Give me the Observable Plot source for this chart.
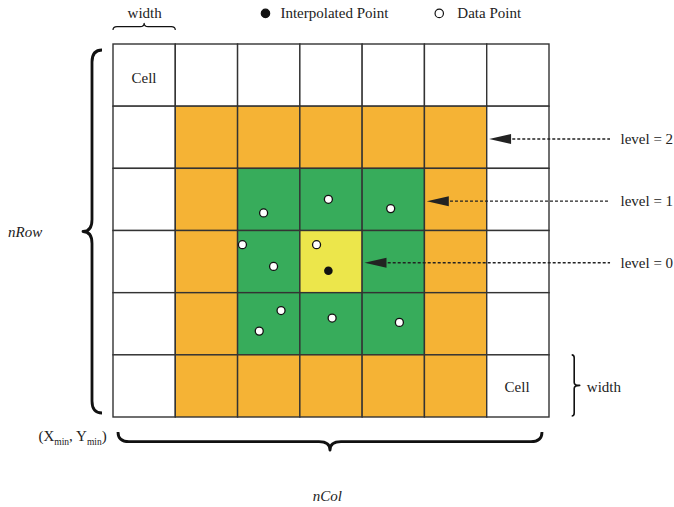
<!DOCTYPE html>
<html><head><meta charset="utf-8">
<script src="https://cdn.jsdelivr.net/npm/d3@7"></script>
<script src="https://cdn.jsdelivr.net/npm/@observablehq/plot@0.6"></script>
<style>body{margin:0;background:#fff}#chart svg{display:block}</style>
</head><body><div id="chart"></div>
<script>
const nCol = 7, nRow = 6;
// level of each cell, listed from the top row down; -1 = outside the search window
const levelGrid = [
  [-1,-1,-1,-1,-1,-1,-1],
  [-1, 2, 2, 2, 2, 2,-1],
  [-1, 2, 1, 1, 1, 2,-1],
  [-1, 2, 1, 0, 1, 2,-1],
  [-1, 2, 1, 1, 1, 2,-1],
  [-1, 2, 2, 2, 2, 2,-1]
];
const levelColors = ["#ECE64B", "#37AC5B", "#F5B335"];
const dataX = [2.41, 3.45, 4.45, 2.07, 3.26, 2.57, 2.69, 2.34, 3.51, 4.59];
const dataY = [3.29, 3.51, 3.36, 2.78, 2.78, 2.43, 1.72, 1.39, 1.60, 1.53];
const interpX = [3.45], interpY = [2.36];
const levelLabels = ["level = 0", "level = 1", "level = 2"];
const arrowTipX = [4.03, 5.03, 6.03];
const arrowY = [2.49, 3.48, 4.48];
const arrowTailX = 7.98;
const labelX = 8.14;
const centerLabels = [
  {text: "width", x: 0.5, y: 6.51},
  {text: "Cell", x: 0.49, y: 5.46},
  {text: "Cell", x: 6.48, y: 0.49}
];
const startLabels = [
  {text: "Interpolated Point", x: 2.68, y: 6.5},
  {text: "Data Point", x: 5.52, y: 6.5},
  {text: "width", x: 7.60, y: 0.48},
  {text: "(Xmin, Ymin)", x: -1.204, y: -0.306}
];
const italicLabels = [
  {text: "nRow", x: -1.42, y: 2.976},
  {text: "nCol", x: 3.435, y: -1.258}
];
const legendItems = [
  {x: 2.44, y: 6.5, fill: "#111"},
  {x: 5.23, y: 6.5, fill: "white"}
];

const cells = [];
levelGrid.forEach((row, i) => row.forEach((lv, c) => {
  cells.push({col: c, row: nRow - 1 - i, level: lv});
}));
const points = dataX.map((x, i) => ({x, y: dataY[i]}));
const interp = interpX.map((x, i) => ({x, y: interpY[i]}));
const arrows = levelLabels.map((t, i) => ({text: t, tip: arrowTipX[i], y: arrowY[i]}));

const arrowHead = {draw(ctx) { ctx.moveTo(0, 0); ctx.lineTo(22, -5); ctx.lineTo(22, 5); ctx.closePath(); }};

function bracePath(p0, p1, n, depth, tip, curl) {
  const L = Math.hypot(p1[0] - p0[0], p1[1] - p0[1]);
  const u = [(p1[0] - p0[0]) / L, (p1[1] - p0[1]) / L];
  const P = (p, a, b) => [p[0] + u[0] * a + n[0] * b, p[1] + u[1] * a + n[1] * b];
  const m = [(p0[0] + p1[0]) / 2, (p0[1] + p1[1]) / 2];
  const path = d3.path();
  path.moveTo(...p0);
  path.quadraticCurveTo(...P(p0, 0, depth), ...P(p0, curl, depth));
  path.lineTo(...P(m, -curl, depth));
  path.quadraticCurveTo(...P(m, 0, depth), ...P(m, 0, depth + tip));
  path.quadraticCurveTo(...P(m, 0, depth), ...P(m, curl, depth));
  path.lineTo(...P(p1, -curl, depth));
  path.quadraticCurveTo(...P(p1, 0, depth), ...p1);
  return path.toString();
}

function braces(index, scales) {
  const {x, y} = scales;
  const specs = [
    {p0: [x(0) - 11, y(nRow) + 6], p1: [x(0) - 11, y(0) - 4], n: [-1, 0], depth: 10, tip: 9, curl: 12, w: 2.8},
    {p0: [x(0) + 5, y(0) + 15], p1: [x(nCol) - 7, y(0) + 15], n: [0, 1], depth: 9.7, tip: 8.5, curl: 11, w: 2.8},
    {p0: [x(0), y(nRow) - 14], p1: [x(1), y(nRow) - 14], n: [0, -1], depth: 3.3, tip: 3.4, curl: 4, w: 1.2},
    {p0: [x(nCol) + 22.7, y(1)], p1: [x(nCol) + 22.7, y(0) - 1], n: [1, 0], depth: 2.5, tip: 5.5, curl: 3, w: 1.6}
  ];
  const ns = "http://www.w3.org/2000/svg";
  const g = document.createElementNS(ns, "g");
  for (const s of specs) {
    const p = document.createElementNS(ns, "path");
    p.setAttribute("d", bracePath(s.p0, s.p1, s.n, s.depth, s.tip, s.curl));
    p.setAttribute("fill", "none");
    p.setAttribute("stroke", "#111");
    p.setAttribute("stroke-width", s.w);
    p.setAttribute("stroke-linejoin", "round");
    g.appendChild(p);
  }
  return g;
}

const font = "Liberation Serif";
const chart = Plot.plot({
  width: 674, height: 507,
  marginLeft: 113, marginRight: 125, marginTop: 44, marginBottom: 90,
  x: {domain: [0, nCol], axis: null},
  y: {domain: [0, nRow], axis: null},
  style: {fontFamily: font, background: "white", color: "#222"},
  marks: [
    Plot.rect(cells, {
      x1: "col", x2: d => d.col + 1, y1: "row", y2: d => d.row + 1,
      fill: d => d.level < 0 ? "white" : levelColors[d.level],
      stroke: "#333", strokeWidth: 1.4
    }),
    Plot.ruleY(arrows, {y: "y", x1: d => d.tip + 0.3, x2: arrowTailX, stroke: "#222", strokeWidth: 1.4, strokeDasharray: "3,2"}),
    Plot.dot(arrows, {x: "tip", y: "y", symbol: arrowHead, fill: "#222", stroke: "none"}),
    Plot.text(arrows, {x: labelX, y: "y", text: "text", textAnchor: "start", fontSize: 15, fill: "#222"}),
    Plot.dot(points, {x: "x", y: "y", r: 4, fill: "white", stroke: "#111", strokeWidth: 1.3}),
    Plot.dot(interp, {x: "x", y: "y", r: 4.3, fill: "#111", stroke: "none"}),
    Plot.dot(legendItems, {x: "x", y: "y", r: 4.2, fill: "fill", stroke: "#111", strokeWidth: 1.2}),
    Plot.text(centerLabels, {x: "x", y: "y", text: "text", fontSize: 15, fill: "#222"}),
    Plot.text(startLabels, {x: "x", y: "y", text: "text", textAnchor: "start", fontSize: 15, fill: "#222"}),
    Plot.text(italicLabels, {x: "x", y: "y", text: "text", fontSize: 15, fontStyle: "italic", fill: "#222"}),
    braces
  ]
});

// subscripts for (Xmin, Ymin)
chart.querySelectorAll("text").forEach(t => {
  if (t.textContent === "(Xmin, Ymin)") {
    const ns = "http://www.w3.org/2000/svg";
    t.textContent = "";
    const parts = [["(X", 0, null], ["min", 4, 9.5], [", Y", -4, null], ["min", 4, 9.5], [")", -4, null]];
    for (const [s, dy, fs] of parts) {
      const sp = document.createElementNS(ns, "tspan");
      sp.textContent = s;
      if (dy) sp.setAttribute("dy", dy);
      if (fs) sp.setAttribute("font-size", fs);
      t.appendChild(sp);
    }
  }
});
document.getElementById("chart").appendChild(chart);
</script>
</body></html>
